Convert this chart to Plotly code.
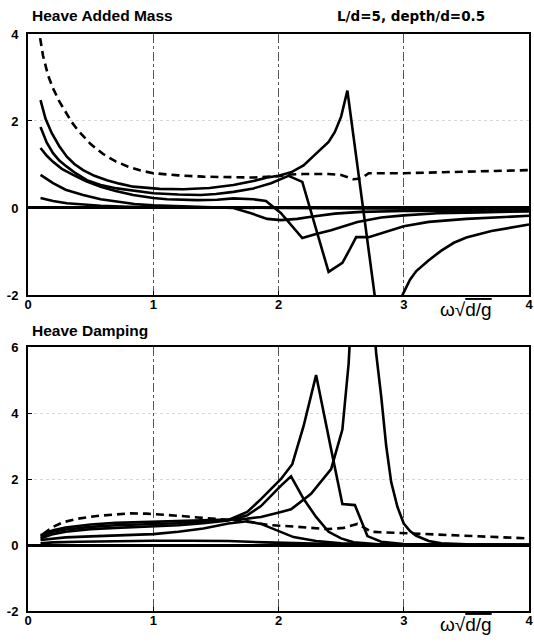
import plotly.graph_objects as go

# ---------------- Heave Added Mass (top panel) ----------------
am_dash_x = [0.08, 0.12, 0.16, 0.2, 0.25, 0.3, 0.35, 0.4, 0.5, 0.6, 0.7, 0.8, 0.9, 1.0, 1.2, 1.4, 1.6, 1.8, 2.0, 2.1, 2.2, 2.4, 2.5, 2.6, 2.66, 2.72, 3.0, 3.5, 4.0]
am_dash_y = [4.2, 3.5, 3.05, 2.75, 2.45, 2.2, 1.97, 1.78, 1.47, 1.24, 1.07, 0.95, 0.86, 0.8, 0.75, 0.72, 0.71, 0.7, 0.73, 0.77, 0.78, 0.78, 0.76, 0.66, 0.68, 0.8, 0.8, 0.83, 0.87]

am1_x = [0.1, 0.14, 0.19, 0.25, 0.31, 0.37, 0.44, 0.53, 0.63, 0.73, 0.84, 1.05, 1.24, 1.45, 1.64, 1.8, 1.91, 2.0, 2.1, 2.2, 2.3, 2.4, 2.45, 2.5, 2.55, 2.77, 2.8, None, 2.97, 2.99, 3.05, 3.1, 3.2, 3.3, 3.4, 3.5, 3.7, 3.85, 4.0]
am1_y = [2.48, 2.05, 1.72, 1.42, 1.18, 1.01, 0.87, 0.74, 0.64, 0.56, 0.49, 0.44, 0.43, 0.46, 0.53, 0.62, 0.7, 0.74, 0.82, 0.98, 1.25, 1.52, 1.75, 2.1, 2.7, -2.0, -2.7, None, -2.5, -2.0, -1.65, -1.45, -1.2, -0.98, -0.8, -0.68, -0.53, -0.45, -0.38]

am2_x = [0.1, 0.15, 0.2, 0.25, 0.31, 0.38, 0.47, 0.58, 0.71, 0.85, 1.0, 1.2, 1.38, 1.5, 1.64, 1.8, 1.94, 2.08, 2.19, 2.4, 2.51, 2.56, 2.62, 2.72, 2.85, 3.0, 3.2, 3.5, 4.0]
am2_y = [1.86, 1.5, 1.26, 1.09, 0.95, 0.8, 0.64, 0.53, 0.45, 0.39, 0.34, 0.31, 0.3, 0.32, 0.37, 0.45, 0.57, 0.74, 0.6, -1.47, -1.26, -1.0, -0.67, -0.67, -0.55, -0.42, -0.32, -0.25, -0.18]

am3_x = [0.1, 0.15, 0.2, 0.27, 0.36, 0.46, 0.58, 0.7, 0.84, 1.0, 1.11, 1.35, 1.51, 1.64, 1.8, 1.9, 2.02, 2.19, 2.3, 2.42, 2.63, 2.82, 3.0, 3.27, 3.6, 4.0]
am3_y = [1.38, 1.2, 1.06, 0.9, 0.76, 0.62, 0.49, 0.39, 0.3, 0.23, 0.2, 0.18, 0.19, 0.22, 0.2, 0.16, -0.12, -0.69, -0.6, -0.51, -0.32, -0.22, -0.17, -0.12, -0.1, -0.08]

am4_x = [0.1, 0.15, 0.2, 0.3, 0.44, 0.58, 0.71, 0.85, 1.0, 1.2, 1.38, 1.64, 1.78, 1.91, 2.02, 2.15, 2.26, 2.45, 2.66, 3.0, 3.5, 4.0]
am4_y = [0.76, 0.66, 0.57, 0.42, 0.3, 0.2, 0.14, 0.09, 0.06, 0.04, 0.03, 0.0, -0.12, -0.25, -0.28, -0.25, -0.2, -0.13, -0.09, -0.07, -0.06, -0.05]

am5_x = [0.1, 0.2, 0.31, 0.45, 0.58, 0.8, 1.0, 1.5, 2.0, 3.0, 4.0]
am5_y = [0.23, 0.16, 0.11, 0.07, 0.05, 0.03, 0.02, 0.01, 0.0, -0.02, -0.03]

# ---------------- Heave Damping (bottom panel) ----------------
dm_dash_x = [0.12, 0.2, 0.28, 0.4, 0.55, 0.7, 0.82, 0.95, 1.1, 1.22, 1.43, 1.62, 1.8, 1.94, 2.12, 2.28, 2.39, 2.52, 2.63, 2.74, 3.0, 3.32, 3.7, 4.0]
dm_dash_y = [0.33, 0.55, 0.69, 0.8, 0.88, 0.93, 0.96, 0.95, 0.92, 0.88, 0.81, 0.76, 0.68, 0.6, 0.56, 0.51, 0.48, 0.52, 0.64, 0.4, 0.36, 0.3, 0.25, 0.2]

dm1_x = [0.1, 0.2, 0.3, 0.5, 0.7, 1.0, 1.2, 1.4, 1.6, 1.75, 1.86, 2.02, 2.11, 2.2, 2.3, 2.42, 2.51, 2.61, 2.71, 2.82, 3.0, 3.5, 4.0]
dm1_y = [0.25, 0.4, 0.47, 0.55, 0.6, 0.63, 0.66, 0.7, 0.76, 1.0, 1.39, 2.0, 2.45, 3.6, 5.15, 2.9, 1.24, 1.21, 0.27, 0.1, 0.03, 0.01, 0.0]

dm2_x = [0.1, 0.2, 0.3, 0.5, 0.7, 1.0, 1.2, 1.4, 1.6, 1.75, 1.86, 2.02, 2.1, 2.2, 2.3, 2.4, 2.5, 2.6, 2.8, 3.0, 4.0]
dm2_y = [0.2, 0.33, 0.4, 0.48, 0.52, 0.56, 0.6, 0.66, 0.74, 0.9, 1.18, 1.8, 2.08, 1.4, 0.85, 0.4, 0.2, 0.08, 0.02, 0.01, 0.0]

dm3_x = [0.1, 0.2, 0.3, 0.5, 0.7, 1.0, 1.2, 1.4, 1.6, 1.75, 1.86, 2.02, 2.1, 2.26, 2.42, 2.51, 2.56, 2.65, 2.74, 2.78, 2.82, 2.86, 2.9, 2.95, 3.0, 3.05, 3.1, 3.2, 3.3, 3.5, 4.0]
dm3_y = [0.3, 0.45, 0.53, 0.62, 0.67, 0.7, 0.72, 0.74, 0.77, 0.8, 0.85, 1.0, 1.08, 1.55, 2.3, 3.5, 5.5, 12.0, 7.5, 5.8, 4.5, 3.0, 1.9, 1.15, 0.65, 0.42, 0.28, 0.12, 0.05, 0.02, 0.01]

dm4_x = [0.1, 0.2, 0.3, 0.5, 0.7, 1.0, 1.2, 1.4, 1.6, 1.75, 1.86, 2.0, 2.12, 2.3, 2.5, 2.7, 3.0, 4.0]
dm4_y = [0.15, 0.2, 0.23, 0.26, 0.29, 0.33, 0.4, 0.5, 0.65, 0.72, 0.64, 0.42, 0.24, 0.12, 0.05, 0.02, 0.0, 0.0]

dm5_x = [0.1, 0.2, 0.4, 0.7, 1.0, 1.3, 1.6, 1.9, 2.2, 2.5, 3.0, 4.0]
dm5_y = [0.05, 0.08, 0.1, 0.12, 0.13, 0.13, 0.12, 0.08, 0.04, 0.02, 0.01, 0.0]

x_ticks = [0, 1, 2, 3, 4]
top_y_ticks = [-2, 0, 2, 4]
bot_y_ticks = [-2, 0, 2, 4, 6]

top_title = "Heave Added Mass"
top_note = "L/d=5, depth/d=0.5"
bot_title = "Heave Damping"

fig = go.Figure()

solid = dict(color="black", width=2.6)
dashed = dict(color="black", width=2.6, dash="8px,5px")

for xs, ys in [(am1_x, am1_y), (am2_x, am2_y), (am3_x, am3_y), (am4_x, am4_y), (am5_x, am5_y)]:
    fig.add_trace(go.Scatter(x=xs, y=ys, mode="lines", line=solid, xaxis="x", yaxis="y", showlegend=False, connectgaps=False))
fig.add_trace(go.Scatter(x=am_dash_x, y=am_dash_y, mode="lines", line=dashed, xaxis="x", yaxis="y", showlegend=False))

for xs, ys in [(dm1_x, dm1_y), (dm2_x, dm2_y), (dm3_x, dm3_y), (dm4_x, dm4_y), (dm5_x, dm5_y)]:
    fig.add_trace(go.Scatter(x=xs, y=ys, mode="lines", line=solid, xaxis="x2", yaxis="y2", showlegend=False))
fig.add_trace(go.Scatter(x=dm_dash_x, y=dm_dash_y, mode="lines", line=dashed, xaxis="x2", yaxis="y2", showlegend=False))

tickfont = dict(family="Liberation Sans, Arial, sans-serif", size=13, color="black", weight="bold")

def xax(anchor):
    return dict(range=[0, 4], tickvals=x_ticks, ticktext=[str(v) for v in x_ticks],
                showline=True, mirror=True, linecolor="black", linewidth=2,
                ticks="inside", ticklen=4, tickcolor="black", tickwidth=1,
                showgrid=True, gridcolor="#555", griddash="dashdot", gridwidth=1,
                zeroline=False, tickfont=tickfont, anchor=anchor, domain=[0, 1],
                automargin=False, ticklabeloverflow="allow", ticklabelstandoff=-4)

def yax(rng, vals, dom, anchor):
    return dict(range=rng, tickvals=vals, ticktext=[str(v) for v in vals],
                showline=True, mirror=True, linecolor="black", linewidth=2,
                ticks="inside", ticklen=4, tickcolor="black", tickwidth=1,
                showgrid=True, gridcolor="#d8d8d8", griddash="dot", gridwidth=1,
                zeroline=True, zerolinecolor="black", zerolinewidth=3,
                tickfont=tickfont, anchor=anchor, domain=dom,
                automargin=False, ticklabeloverflow="allow", ticklabelstandoff=5)

fig.update_layout(
    width=534, height=642,
    margin=dict(l=28, r=5, t=34, b=31),
    paper_bgcolor="white", plot_bgcolor="white",
    xaxis=xax("y"), yaxis=yax([-2, 4], top_y_ticks, [0.5477, 1.0], "x"),
    xaxis2=xax("y2"), yaxis2=yax([-2, 6], bot_y_ticks, [0.0, 0.4575], "x2"),
    showlegend=False,
)

title_font = dict(family="Liberation Sans, Arial, sans-serif", size=15.5, color="black", weight="bold")
note_font = dict(family="DejaVu Sans, sans-serif", size=13.5, color="black", weight="bold")
label = "ω√<span style='text-decoration:overline'>d/g</span>"
fig.add_annotation(text=top_title, xref="paper", yref="paper", x=0.004, y=1.0, yshift=8,
                   xanchor="left", yanchor="bottom", showarrow=False, font=title_font)
fig.add_annotation(text=top_note, xref="paper", yref="paper", x=0.916, y=1.0, yshift=8,
                   xanchor="right", yanchor="bottom", showarrow=False, font=note_font)
fig.add_annotation(text=bot_title, xref="paper", yref="paper", x=0.004, y=0.4575, yshift=6,
                   xanchor="left", yanchor="bottom", showarrow=False, font=title_font)
lab_font = dict(family="Liberation Sans, Arial, sans-serif", size=19, color="black")
fig.add_annotation(text=label, xref="paper", yref="paper", x=0.875, y=0.5477, yshift=-15,
                   xanchor="center", yanchor="middle", showarrow=False, font=lab_font)
fig.add_annotation(text=label, xref="paper", yref="paper", x=0.875, y=0.0, yshift=-13,
                   xanchor="center", yanchor="middle", showarrow=False, font=lab_font)

fig.write_html("out.html", config={"displayModeBar": False},
               post_script="document.body.style.margin='0px';")
